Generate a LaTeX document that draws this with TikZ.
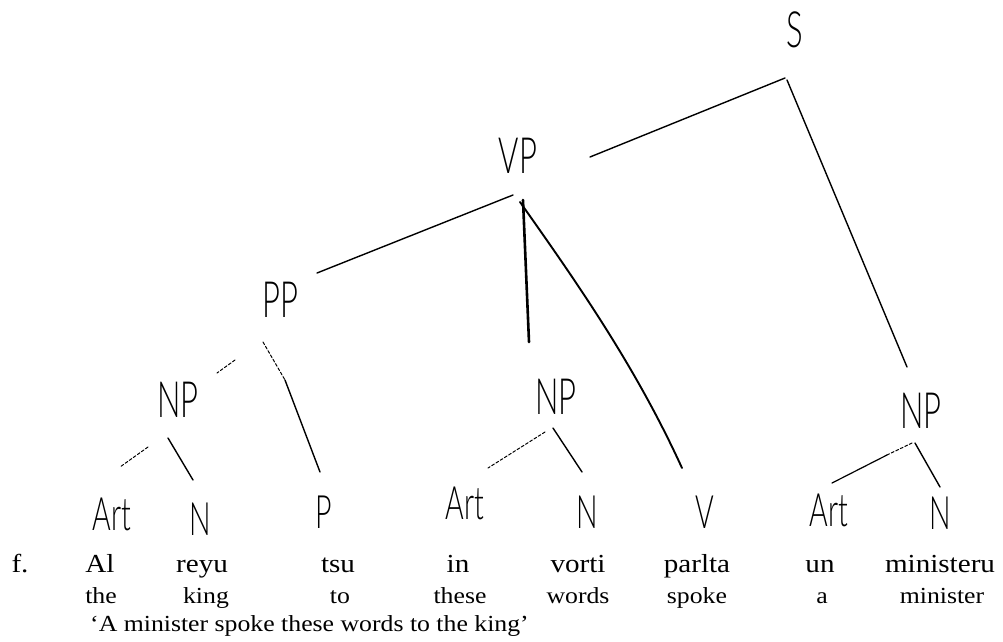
\documentclass[tikz,border=0pt]{standalone}
\usepackage{fontspec}
\usepackage{graphicx}
\setmainfont{Liberation Serif}[FakeStretch=1.12]
\newfontfamily\handfont{Lato Light}
\newcommand\handtxt[1]{\scalebox{0.62}[1]{#1}}
\usetikzlibrary{calc}
\begin{document}
\begin{tikzpicture}[x=1pt,y=-1pt,
  hand/.style={font=\handfont\fontsize{50}{50}\selectfont, inner sep=0pt},
  cat/.style={font=\handfont\fontsize{46}{46}\selectfont, inner sep=0pt},
  word/.style={font=\fontsize{26}{26}\selectfont, inner sep=0pt, anchor=base},
  gloss/.style={font=\fontsize{23}{23}\selectfont, inner sep=0pt, anchor=base},
  branch/.style={line width=1.4pt, line cap=round, line join=round},
  thickbranch/.style={line width=2.6pt, line cap=round, line join=round},
  faint/.style={line width=1pt, dash pattern=on 3pt off 2pt, line cap=round}]
\useasboundingbox (0,0) rectangle (1003,641);
% phrase labels
\node[hand] (S) at (795,30) {\handtxt{S}};
\node[hand] (VP) at (518,156) {\handtxt{VP}};
\node[hand] (PP) at (280,300) {\handtxt{PP}};
\node[hand] (NPl) at (178,400) {\handtxt{NP}};
\node[hand] (NPm) at (556,397) {\handtxt{NP}};
\node[hand] (NPr) at (921,411) {\handtxt{NP}};
% category labels
\node[cat] (Art1) at (112,514) {\handtxt{Art}};
\node[cat] (N1) at (200,519) {\handtxt{N}};
\node[cat] (P) at (324,512) {\handtxt{P}};
\node[cat] (Art2) at (465,503) {\handtxt{Art}};
\node[cat] (N2) at (587,512) {\handtxt{N}};
\node[cat] (V) at (705,512) {\handtxt{V}};
\node[cat] (Art3) at (829,510) {\handtxt{Art}};
\node[cat] (N3) at (940,513) {\handtxt{N}};
% words
\node[word] (f) at (20,572) {f.};
\node[word] (w1) at (100,572) {Al};
\node[word] (w2) at (202,572) {reyu};
\node[word] (w3) at (338,572) {tsu};
\node[word] (w4) at (458,572) {in};
\node[word] (w5) at (578,572) {vorti};
\node[word] (w6) at (697,572) {parlta};
\node[word] (w7) at (820,572) {un};
\node[word] (w8) at (940,572) {ministeru};
% glosses
\node[gloss] (g1) at (101,603) {the};
\node[gloss] (g2) at (206,603) {king};
\node[gloss] (g3) at (340,603) {to};
\node[gloss] (g4) at (460,603) {these};
\node[gloss] (g5) at (578,603) {words};
\node[gloss] (g6) at (697,603) {spoke};
\node[gloss] (g7) at (822,603) {a};
\node[gloss] (g8) at (942,603) {minister};
% translation
\node[font=\fontsize{23}{23}\selectfont, inner sep=0pt, anchor=base west] (tr) at (90,631) {`A minister spoke these words to the king'};
% branches
\draw[branch] ($(S)+(-10,48)$) -- ($(VP)+(72,1)$);
\draw[branch] ($(S)+(-8,50)$) -- ($(NPr)+(-14,-44)$);
\draw[branch] ($(VP)+(-5,39)$) -- ($(PP)+(37,-27)$);
\draw[thickbranch] ($(VP)+(5,44)$) -- ($(NPm)+(-27,-55)$);
\draw[branch, line width=1.9pt] ($(VP)+(2,46)$) .. controls ($(VP)+(57,124)$) and ($(VP)+(117,209)$) .. ($(V)+(-23,-44)$);
\draw[faint] ($(PP)+(-45,60)$) -- ($(NPl)+(39,-27)$);
\draw[faint] ($(PP)+(-17,42)$) -- ($(PP)+(5,80)$);
\draw[branch] ($(PP)+(5,80)$) -- ($(P)+(-4,-40)$);
\draw[faint] ($(NPl)+(-30,47)$) -- ($(Art1)+(8,-47)$);
\draw[branch] ($(NPl)+(-10,38)$) -- ($(N1)+(-7,-39)$);
\draw[faint] ($(NPm)+(-11,35)$) -- ($(Art2)+(23,-35)$);
\draw[branch] ($(NPm)+(-3,31)$) -- ($(N2)+(-5,-40)$);
\draw[faint] ($(NPr)+(-9,32)$) -- ($(NPr)+(-34,44)$);
\draw[branch, line width=1.2pt] ($(NPr)+(-34,44)$) -- ($(Art3)+(3,-27)$);
\draw[branch] ($(NPr)+(-6,32)$) -- ($(N3)+(0,-26)$);
\end{tikzpicture}
\end{document}
